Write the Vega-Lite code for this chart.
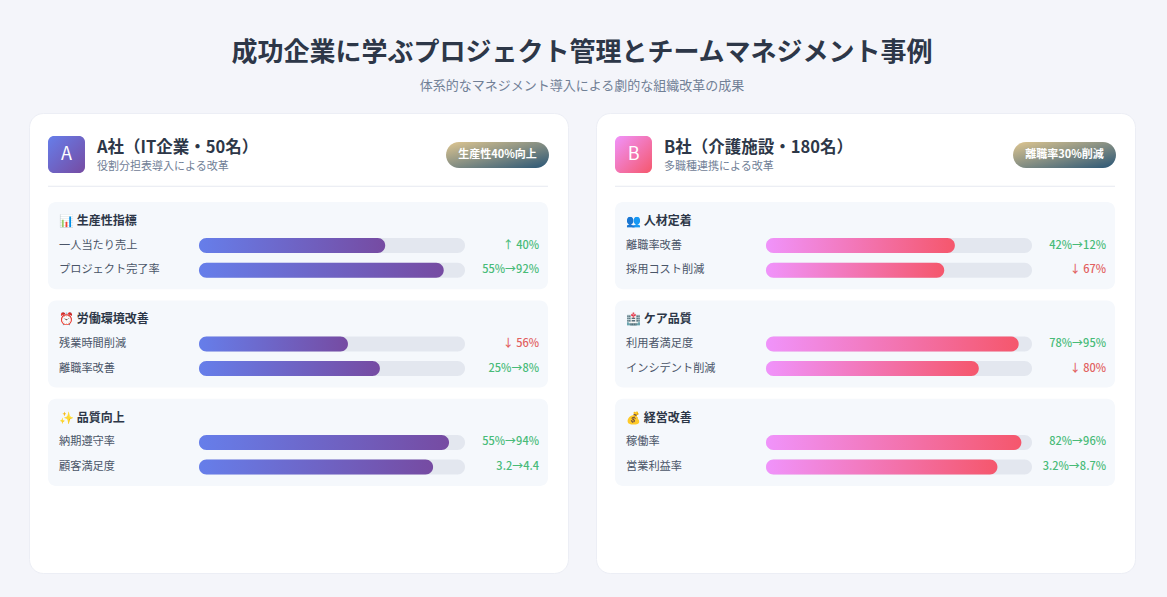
{
  "$schema": "https://vega.github.io/schema/vega-lite/v6.json",
  "background": "#f4f5fa",
  "padding": {"left": 28, "right": 33, "top": 39, "bottom": 23},
  "bounds": "flush",
  "title": {
    "text": "成功企業に学ぶプロジェクト管理とチームマネジメント事例",
    "subtitle": "体系的なマネジメント導入による劇的な組織改革の成果",
    "anchor": "middle",
    "font": "Noto Sans CJK JP",
    "fontSize": 26,
    "fontWeight": "bold",
    "color": "#2d3748",
    "subtitleFont": "Noto Sans CJK JP",
    "subtitleFontSize": 13,
    "subtitleColor": "#718096",
    "subtitlePadding": 14,
    "offset": 20
  },
  "data": {
    "values": [
      {"company": "A", "kind": "header", "row": "hdr", "letter": "A", "name": "A社（IT企業・50名）", "sub": "役割分担表導入による改革", "badge": "生産性40%向上"},
      {"company": "A", "kind": "section", "row": "t1", "end": "a2", "label": "📊 生産性指標"},
      {"company": "A", "kind": "metric", "row": "a1", "label": "一人当たり売上", "value": 70, "result": "↑ 40%", "trend": "up"},
      {"company": "A", "kind": "metric", "row": "a2", "label": "プロジェクト完了率", "value": 92, "result": "55%→92%", "trend": "up"},
      {"company": "A", "kind": "section", "row": "t2", "end": "a4", "label": "⏰ 労働環境改善"},
      {"company": "A", "kind": "metric", "row": "a3", "label": "残業時間削減", "value": 56, "result": "↓ 56%", "trend": "down"},
      {"company": "A", "kind": "metric", "row": "a4", "label": "離職率改善", "value": 68, "result": "25%→8%", "trend": "up"},
      {"company": "A", "kind": "section", "row": "t3", "end": "a6", "label": "✨ 品質向上"},
      {"company": "A", "kind": "metric", "row": "a5", "label": "納期遵守率", "value": 94, "result": "55%→94%", "trend": "up"},
      {"company": "A", "kind": "metric", "row": "a6", "label": "顧客満足度", "value": 88, "result": "3.2→4.4", "trend": "up"},
      {"company": "B", "kind": "header", "row": "hdr", "letter": "B", "name": "B社（介護施設・180名）", "sub": "多職種連携による改革", "badge": "離職率30%削減"},
      {"company": "B", "kind": "section", "row": "t1", "end": "a2", "label": "👥 人材定着"},
      {"company": "B", "kind": "metric", "row": "a1", "label": "離職率改善", "value": 71, "result": "42%→12%", "trend": "up"},
      {"company": "B", "kind": "metric", "row": "a2", "label": "採用コスト削減", "value": 67, "result": "↓ 67%", "trend": "down"},
      {"company": "B", "kind": "section", "row": "t2", "end": "a4", "label": "🏥 ケア品質"},
      {"company": "B", "kind": "metric", "row": "a3", "label": "利用者満足度", "value": 95, "result": "78%→95%", "trend": "up"},
      {"company": "B", "kind": "metric", "row": "a4", "label": "インシデント削減", "value": 80, "result": "↓ 80%", "trend": "down"},
      {"company": "B", "kind": "section", "row": "t3", "end": "a6", "label": "💰 経営改善"},
      {"company": "B", "kind": "metric", "row": "a5", "label": "稼働率", "value": 96, "result": "82%→96%", "trend": "up"},
      {"company": "B", "kind": "metric", "row": "a6", "label": "営業利益率", "value": 87, "result": "3.2%→8.7%", "trend": "up"}
    ]
  },
  "spacing": 28,
  "hconcat": [
    {
      "width": 539,
      "height": 460,
      "transform": [{"filter": "datum.company == 'A'"}],
      "layer": [
        {
          "transform": [{"filter": "datum.kind == 'section'"}],
          "mark": {"type": "rect", "fill": "#f5f8fc", "cornerRadius": 8, "yOffset": -19, "y2Offset": 19},
          "encoding": {
            "x": {"datum": -56.77, "type": "quantitative", "axis": null, "scale": {"domain": [-63.91, 138.72], "nice": false, "zero": false}},
            "x2": {"datum": 131.2},
            "y": {"field": "row", "type": "ordinal", "axis": null, "scale": {"type": "point", "domain": ["hdr", "b1", "b2", "t1", "a1", "a2", "g1", "t2", "a3", "a4", "g2", "t3", "a5", "a6"], "range": [34.2, 354], "padding": 0}},
            "y2": {"field": "end"}
          }
        },
        {
          "transform": [{"filter": "datum.kind == 'header'"}],
          "mark": {"type": "rect", "fill": "#e6e9f0", "yOffset": 38.5, "y2Offset": 39.5},
          "encoding": {
            "x": {"datum": -56.77, "type": "quantitative", "axis": null},
            "x2": {"datum": 131.2},
            "y": {"field": "row", "type": "ordinal", "axis": null},
            "y2": {"field": "row"}
          }
        },
        {
          "transform": [{"filter": "datum.kind == 'header'"}],
          "mark": {
            "type": "rect", "cornerRadius": 6, "yOffset": -11.2, "y2Offset": 25.8,
            "fill": {"gradient": "linear", "x1": 0, "y1": 0, "x2": 1, "y2": 1, "stops": [{"offset": 0, "color": "#667eea"}, {"offset": 1, "color": "#764ba2"}]}
          },
          "encoding": {
            "x": {"datum": -56.77, "type": "quantitative", "axis": null},
            "x2": {"datum": -42.86},
            "y": {"field": "row", "type": "ordinal", "axis": null},
            "y2": {"field": "row"}
          }
        },
        {
          "transform": [{"filter": "datum.kind == 'header'"}],
          "mark": {"type": "text", "font": "Noto Sans CJK JP", "fontSize": 18, "color": "white", "align": "center", "baseline": "middle", "dy": 7.3},
          "encoding": {
            "x": {"datum": -49.8, "type": "quantitative", "axis": null},
            "y": {"field": "row", "type": "ordinal", "axis": null},
            "text": {"field": "letter"}
          }
        },
        {
          "transform": [{"filter": "datum.kind == 'header'"}],
          "mark": {"type": "text", "font": "Noto Sans CJK JP", "fontSize": 16.5, "fontWeight": "bold", "color": "#2d3748", "align": "left", "baseline": "middle", "dy": 0.8},
          "encoding": {
            "x": {"datum": -38.35, "type": "quantitative", "axis": null},
            "y": {"field": "row", "type": "ordinal", "axis": null},
            "text": {"field": "name"}
          }
        },
        {
          "transform": [{"filter": "datum.kind == 'header'"}],
          "mark": {"type": "text", "font": "Noto Sans CJK JP", "fontSize": 11, "color": "#718096", "align": "left", "baseline": "middle", "dy": 20},
          "encoding": {
            "x": {"datum": -38.35, "type": "quantitative", "axis": null},
            "y": {"field": "row", "type": "ordinal", "axis": null},
            "text": {"field": "sub"}
          }
        },
        {
          "transform": [{"filter": "datum.kind == 'header'"}],
          "mark": {
            "type": "rect", "cornerRadius": 13, "yOffset": -5.2, "y2Offset": 20.8,
            "fill": {"gradient": "linear", "x1": 0, "y1": 0, "x2": 1, "y2": 1, "stops": [{"offset": 0, "color": "#dfc690"}, {"offset": 1, "color": "#2a5676"}]}
          },
          "encoding": {
            "x": {"datum": 92.86, "type": "quantitative", "axis": null},
            "x2": {"datum": 131.58},
            "y": {"field": "row", "type": "ordinal", "axis": null},
            "y2": {"field": "row"}
          }
        },
        {
          "transform": [{"filter": "datum.kind == 'header'"}],
          "mark": {"type": "text", "font": "Noto Sans CJK JP", "fontSize": 11, "fontWeight": "bold", "color": "white", "align": "center", "baseline": "middle", "dy": 7.8},
          "encoding": {
            "x": {"datum": 112.2, "type": "quantitative", "axis": null},
            "y": {"field": "row", "type": "ordinal", "axis": null},
            "text": {"field": "badge"}
          }
        },
        {
          "transform": [{"filter": "datum.kind == 'section'"}],
          "mark": {"type": "text", "font": "Noto Sans CJK JP", "fontSize": 12, "fontWeight": "bold", "color": "#2d3748", "align": "left", "baseline": "middle"},
          "encoding": {
            "x": {"datum": -52.63, "type": "quantitative", "axis": null},
            "y": {"field": "row", "type": "ordinal", "axis": null},
            "text": {"field": "label"}
          }
        },
        {
          "transform": [{"filter": "datum.kind == 'metric'"}],
          "mark": {"type": "text", "font": "Noto Sans CJK JP", "fontSize": 11.2, "color": "#4a5568", "align": "left", "baseline": "middle"},
          "encoding": {
            "x": {"datum": -52.63, "type": "quantitative", "axis": null},
            "y": {"field": "row", "type": "ordinal", "axis": null},
            "text": {"field": "label"}
          }
        },
        {
          "transform": [{"filter": "datum.kind == 'metric'"}],
          "mark": {"type": "bar", "height": 15, "cornerRadius": 7.5, "fill": "#e3e7ef"},
          "encoding": {
            "x": {"datum": 100, "type": "quantitative", "axis": null},
            "x2": {"datum": 0},
            "y": {"field": "row", "type": "ordinal", "axis": null}
          }
        },
        {
          "transform": [{"filter": "datum.kind == 'metric'"}],
          "mark": {
            "type": "bar", "height": 15, "cornerRadius": 7.5,
            "fill": {"gradient": "linear", "x1": 0, "y1": 0, "x2": 1, "y2": 0, "stops": [{"offset": 0, "color": "#667eea"}, {"offset": 1, "color": "#764ba2"}]}
          },
          "encoding": {
            "x": {"field": "value", "type": "quantitative", "axis": null},
            "x2": {"datum": 0},
            "y": {"field": "row", "type": "ordinal", "axis": null}
          }
        },
        {
          "transform": [{"filter": "datum.kind == 'metric'"}],
          "mark": {"type": "text", "font": "Noto Sans CJK JP", "fontSize": 11, "fontWeight": 500, "align": "right", "baseline": "middle"},
          "encoding": {
            "x": {"datum": 127.82, "type": "quantitative", "axis": null},
            "y": {"field": "row", "type": "ordinal", "axis": null},
            "text": {"field": "result"},
            "color": {"field": "trend", "type": "nominal", "legend": null, "scale": {"domain": ["up", "down"], "range": ["#48bb78", "#e26060"]}}
          }
        }
      ]
    },
    {
      "width": 539,
      "height": 460,
      "transform": [{"filter": "datum.company == 'B'"}],
      "layer": [
        {
          "transform": [{"filter": "datum.kind == 'section'"}],
          "mark": {"type": "rect", "fill": "#f5f8fc", "cornerRadius": 8, "yOffset": -19, "y2Offset": 19},
          "encoding": {
            "x": {"datum": -56.77, "type": "quantitative", "axis": null, "scale": {"domain": [-63.91, 138.72], "nice": false, "zero": false}},
            "x2": {"datum": 131.2},
            "y": {"field": "row", "type": "ordinal", "axis": null, "scale": {"type": "point", "domain": ["hdr", "b1", "b2", "t1", "a1", "a2", "g1", "t2", "a3", "a4", "g2", "t3", "a5", "a6"], "range": [34.2, 354], "padding": 0}},
            "y2": {"field": "end"}
          }
        },
        {
          "transform": [{"filter": "datum.kind == 'header'"}],
          "mark": {"type": "rect", "fill": "#e6e9f0", "yOffset": 38.5, "y2Offset": 39.5},
          "encoding": {
            "x": {"datum": -56.77, "type": "quantitative", "axis": null},
            "x2": {"datum": 131.2},
            "y": {"field": "row", "type": "ordinal", "axis": null},
            "y2": {"field": "row"}
          }
        },
        {
          "transform": [{"filter": "datum.kind == 'header'"}],
          "mark": {
            "type": "rect", "cornerRadius": 6, "yOffset": -11.2, "y2Offset": 25.8,
            "fill": {"gradient": "linear", "x1": 0, "y1": 0, "x2": 1, "y2": 1, "stops": [{"offset": 0, "color": "#f093fb"}, {"offset": 1, "color": "#f5576c"}]}
          },
          "encoding": {
            "x": {"datum": -56.77, "type": "quantitative", "axis": null},
            "x2": {"datum": -42.86},
            "y": {"field": "row", "type": "ordinal", "axis": null},
            "y2": {"field": "row"}
          }
        },
        {
          "transform": [{"filter": "datum.kind == 'header'"}],
          "mark": {"type": "text", "font": "Noto Sans CJK JP", "fontSize": 18, "color": "white", "align": "center", "baseline": "middle", "dy": 7.3},
          "encoding": {
            "x": {"datum": -49.8, "type": "quantitative", "axis": null},
            "y": {"field": "row", "type": "ordinal", "axis": null},
            "text": {"field": "letter"}
          }
        },
        {
          "transform": [{"filter": "datum.kind == 'header'"}],
          "mark": {"type": "text", "font": "Noto Sans CJK JP", "fontSize": 16.5, "fontWeight": "bold", "color": "#2d3748", "align": "left", "baseline": "middle", "dy": 0.8},
          "encoding": {
            "x": {"datum": -38.35, "type": "quantitative", "axis": null},
            "y": {"field": "row", "type": "ordinal", "axis": null},
            "text": {"field": "name"}
          }
        },
        {
          "transform": [{"filter": "datum.kind == 'header'"}],
          "mark": {"type": "text", "font": "Noto Sans CJK JP", "fontSize": 11, "color": "#718096", "align": "left", "baseline": "middle", "dy": 20},
          "encoding": {
            "x": {"datum": -38.35, "type": "quantitative", "axis": null},
            "y": {"field": "row", "type": "ordinal", "axis": null},
            "text": {"field": "sub"}
          }
        },
        {
          "transform": [{"filter": "datum.kind == 'header'"}],
          "mark": {
            "type": "rect", "cornerRadius": 13, "yOffset": -5.2, "y2Offset": 20.8,
            "fill": {"gradient": "linear", "x1": 0, "y1": 0, "x2": 1, "y2": 1, "stops": [{"offset": 0, "color": "#dfc690"}, {"offset": 1, "color": "#2a5676"}]}
          },
          "encoding": {
            "x": {"datum": 92.86, "type": "quantitative", "axis": null},
            "x2": {"datum": 131.58},
            "y": {"field": "row", "type": "ordinal", "axis": null},
            "y2": {"field": "row"}
          }
        },
        {
          "transform": [{"filter": "datum.kind == 'header'"}],
          "mark": {"type": "text", "font": "Noto Sans CJK JP", "fontSize": 11, "fontWeight": "bold", "color": "white", "align": "center", "baseline": "middle", "dy": 7.8},
          "encoding": {
            "x": {"datum": 112.2, "type": "quantitative", "axis": null},
            "y": {"field": "row", "type": "ordinal", "axis": null},
            "text": {"field": "badge"}
          }
        },
        {
          "transform": [{"filter": "datum.kind == 'section'"}],
          "mark": {"type": "text", "font": "Noto Sans CJK JP", "fontSize": 12, "fontWeight": "bold", "color": "#2d3748", "align": "left", "baseline": "middle"},
          "encoding": {
            "x": {"datum": -52.63, "type": "quantitative", "axis": null},
            "y": {"field": "row", "type": "ordinal", "axis": null},
            "text": {"field": "label"}
          }
        },
        {
          "transform": [{"filter": "datum.kind == 'metric'"}],
          "mark": {"type": "text", "font": "Noto Sans CJK JP", "fontSize": 11.2, "color": "#4a5568", "align": "left", "baseline": "middle"},
          "encoding": {
            "x": {"datum": -52.63, "type": "quantitative", "axis": null},
            "y": {"field": "row", "type": "ordinal", "axis": null},
            "text": {"field": "label"}
          }
        },
        {
          "transform": [{"filter": "datum.kind == 'metric'"}],
          "mark": {"type": "bar", "height": 15, "cornerRadius": 7.5, "fill": "#e3e7ef"},
          "encoding": {
            "x": {"datum": 100, "type": "quantitative", "axis": null},
            "x2": {"datum": 0},
            "y": {"field": "row", "type": "ordinal", "axis": null}
          }
        },
        {
          "transform": [{"filter": "datum.kind == 'metric'"}],
          "mark": {
            "type": "bar", "height": 15, "cornerRadius": 7.5,
            "fill": {"gradient": "linear", "x1": 0, "y1": 0, "x2": 1, "y2": 0, "stops": [{"offset": 0, "color": "#f093fb"}, {"offset": 1, "color": "#f5576c"}]}
          },
          "encoding": {
            "x": {"field": "value", "type": "quantitative", "axis": null},
            "x2": {"datum": 0},
            "y": {"field": "row", "type": "ordinal", "axis": null}
          }
        },
        {
          "transform": [{"filter": "datum.kind == 'metric'"}],
          "mark": {"type": "text", "font": "Noto Sans CJK JP", "fontSize": 11, "fontWeight": 500, "align": "right", "baseline": "middle"},
          "encoding": {
            "x": {"datum": 127.82, "type": "quantitative", "axis": null},
            "y": {"field": "row", "type": "ordinal", "axis": null},
            "text": {"field": "result"},
            "color": {"field": "trend", "type": "nominal", "legend": null, "scale": {"domain": ["up", "down"], "range": ["#48bb78", "#e26060"]}}
          }
        }
      ]
    }
  ],
  "config": {
    "view": {"fill": "white", "stroke": "#eceef5", "cornerRadius": 14}
  }
}
